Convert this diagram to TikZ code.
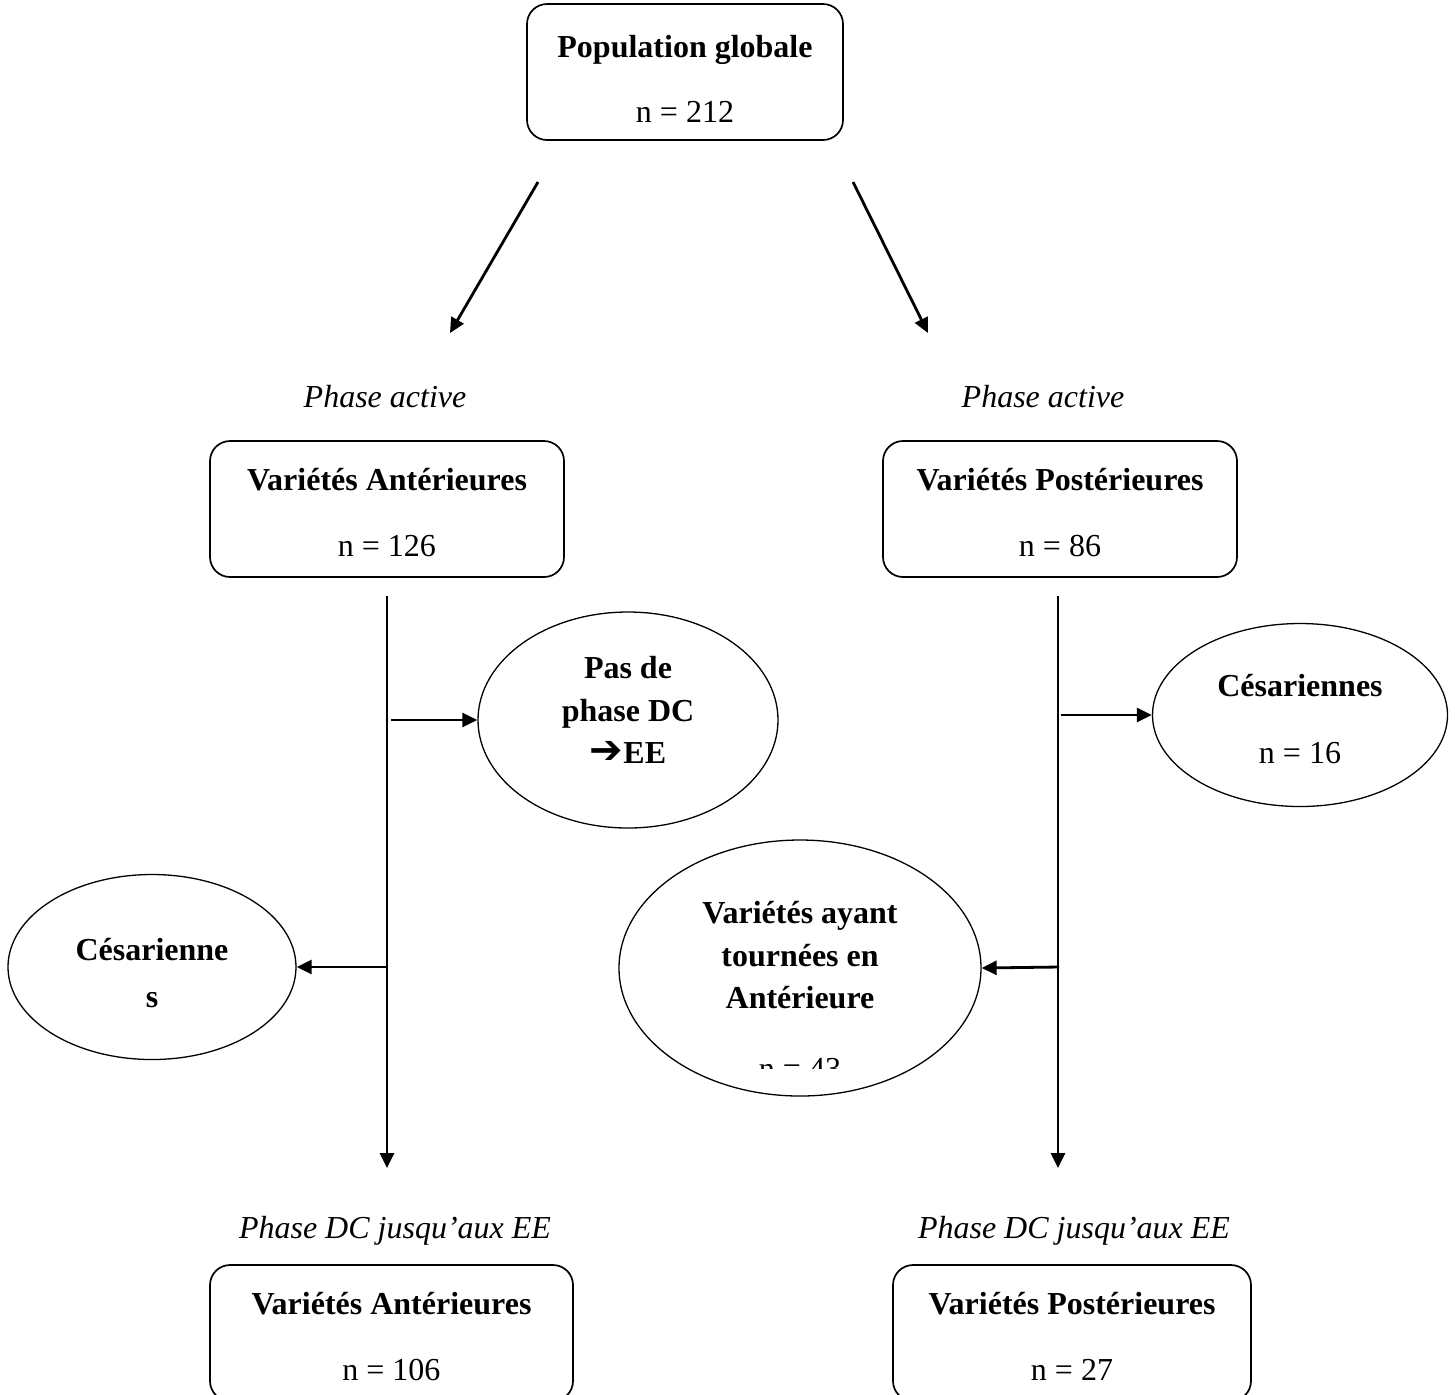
\documentclass[tikz,border=0pt]{standalone}
\usepackage{fontspec}
\setmainfont{Liberation Serif}
\newfontfamily\symbfont{DejaVu Sans}
\usetikzlibrary{arrows.meta,shapes.geometric}

\begin{document}
\begin{tikzpicture}[x=.5pt,y=-.5pt,
    every node/.style={font=\fontsize{16}{21.25}\selectfont},
    boite/.style={draw,line width=.85pt,rounded corners=10pt,align=center,
      minimum height=68pt},
    bulle/.style={draw,ellipse,line width=.65pt,inner sep=0pt,align=center,
      font=\fontsize{16}{21.25}\selectfont\bfseries},
    fleche/.style={line width=1.4pt,-{Triangle[length=7.5pt,width=7pt]}}]
  \useasboundingbox (0,0) rectangle (1455,1394);
  \node[boite,minimum width=158pt] (pop) at (685,72)
    {\rule{0pt}{18pt}\textbf{Population globale}\\[11.25pt]n = 212};
  \foreach \x/\z/\n in{385/395/g, 1043/1074/d}{
    \node[anchor=base] (pa\n) at (\x,407) {\itshape Phase active};
    \node[anchor=base] (pdc\n) at (\z,1238) {\itshape Phase DC jusqu’aux EE};
  }
  \node[boite,minimum width=177pt] (vag) at (387,509)
    {\rule{0pt}{14.5pt}\textbf{Variétés Antérieures}\\[11.75pt]n = 126};
  \node[boite,minimum width=177pt] (vpd) at (1060,509)
    {\rule{0pt}{14.5pt}\textbf{Variétés Postérieures}\\[11.75pt]n = 86};
  \node[boite,minimum width=181.5pt] (vag2) at (391.5,1333)
    {\rule{0pt}{14.5pt}\textbf{Variétés Antérieures}\\[11.75pt]n = 106};
  \node[boite,minimum width=179pt] (vpd2) at (1072,1333)
    {\rule{0pt}{14.5pt}\textbf{Variétés Postérieures}\\[11.75pt]n = 27};
  \node[bulle,minimum width=150pt,minimum height=108pt] (pas) at (628,720)
    {Pas de\\phase DC\\{\symbfont\fontsize{20}{20}\selectfont ➔}EE\rule[-10pt]{0pt}{0pt}};
  \node[bulle,minimum width=147.5pt,minimum height=91.5pt] (cesd) at (1300,715)
    {\rule{0pt}{15pt}Césariennes\\[12.25pt]\mdseries n = 16};
  \node[bulle,minimum width=144pt,minimum height=92.5pt] (cesg) at (152,967)
    {\rule{0pt}{17pt}Césarienne\\[2pt]s};
  \node[bulle,minimum width=181pt,minimum height=128pt] (vpa) at (800,968) {};
  \begin{scope}
    \clip (600,820) rectangle (1000,1068);
    \node[align=center,font=\fontsize{16}{21.25}\selectfont\bfseries] (vpat) at (800,991)
      {Variétés ayant\\tournées en\\Antérieure\\[14.25pt]\mdseries n = 43};
  \end{scope}
  \coordinate (dg1) at (538,182);
  \coordinate (dg2) at (450,333);
  \coordinate (dd1) at (853,182);
  \coordinate (dd2) at (928,333);
  \coordinate (vg1) at (387,596);
  \coordinate (vg2) at (387,1168);
  \coordinate (vd1) at (1058,596);
  \coordinate (vd2) at (1058,1168);
  \coordinate (bg1) at (391,720);
  \coordinate (bg2) at (387,967);
  \coordinate (bd1) at (1061,715);
  \coordinate (bd2) at (1059,967);
  \draw[fleche] (dg1) -- (dg2);
  \draw[fleche] (dd1) -- (dd2);
  \draw[fleche] (vg1) -- (vg2);
  \draw[fleche] (vd1) -- (vd2);
  \draw[fleche] (bg1) -- (pas.west);
  \draw[fleche] (bg2) -- (cesg.east);
  \draw[fleche] (bd1) -- (cesd.west);
  \draw[fleche] (bd2) -- (vpa.east);
\end{tikzpicture}
\end{document}
